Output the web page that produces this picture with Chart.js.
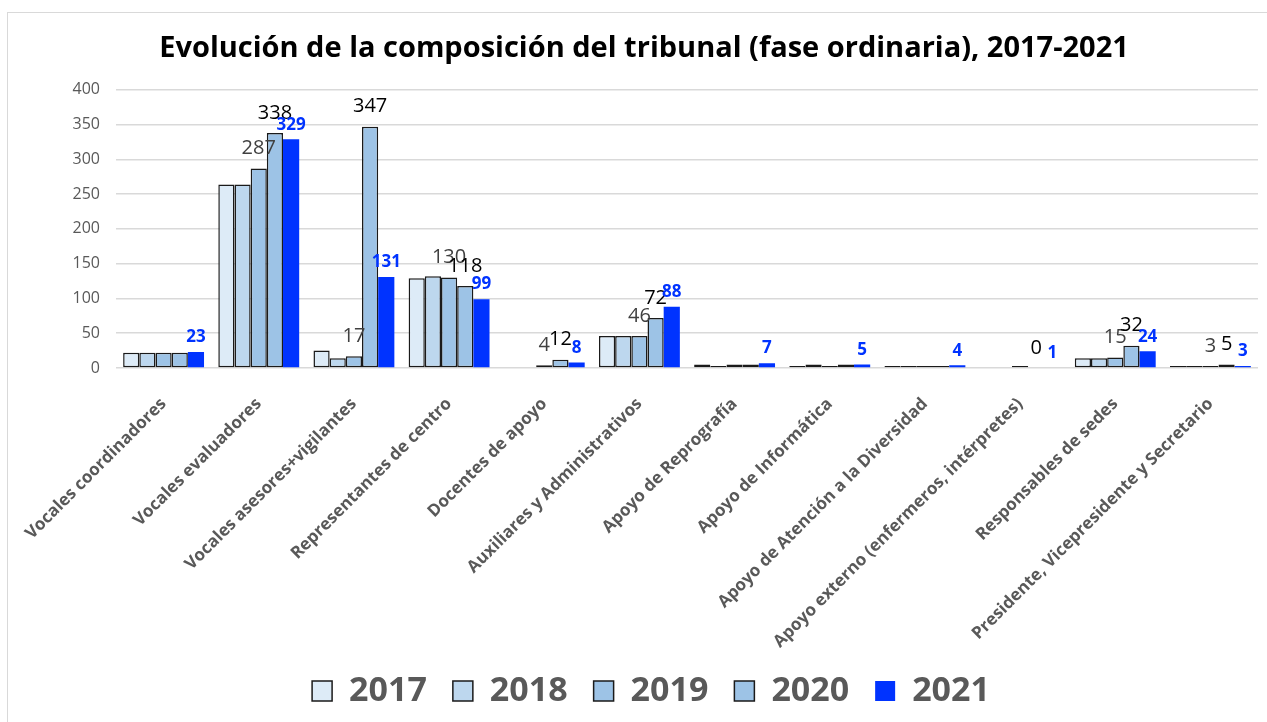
<!DOCTYPE html>
<html lang="es">
<head>
    <meta charset="UTF-8">
    <title>Evolución de la composición del tribunal</title>
    <script src="https://cdn.jsdelivr.net/npm/chart.js"></script>
    <style>
        body { margin: 0; background: #fff; }
        .chart-wrapper { position: relative; width: 1267px; height: 722px; }
    </style>
</head>
<body>
<div class="chart-wrapper">
    <canvas id="tribunalChart"></canvas>
</div>

<script>
    const categorias = [
        'Vocales coordinadores',
        'Vocales evaluadores',
        'Vocales asesores+vigilantes',
        'Representantes de centro',
        'Docentes de apoyo',
        'Auxiliares y Administrativos',
        'Apoyo de Reprografía',
        'Apoyo de Informática',
        'Apoyo de Atención a la Diversidad',
        'Apoyo externo (enfermeros, intérpretes)',
        'Responsables de sedes',
        'Presidente, Vicepresidente y Secretario'
    ];
    const anios = ['2017', '2018', '2019', '2020', '2021'];

    const datos2017 = [22, 264, 25, 129, 0, 46, 5, 3, 3, 0, 14, 3];
    const datos2018 = [22, 264, 14, 132, 0, 46, 3, 5, 3, 0, 14, 3];
    const datos2019 = [22, 287, 17, 130, 4, 46, 5, 3, 3, 3, 15, 3];
    const datos2020 = [22, 338, 347, 118, 12, 72, 5, 5, 3, 0, 32, 5];
    const datos2021 = [23, 329, 131, 99, 8, 88, 7, 5, 4, 1, 24, 3];

    const ticksY = [0, 50, 100, 150, 200, 250, 300, 350, 400];

    // categorías con etiqueta visible (por índice)
    const etiquetas2019 = [1, 2, 3, 4, 5, 10, 11];
    const etiquetas2020 = [1, 2, 3, 4, 5, 9, 10, 11];
    const etiquetas2021 = [0, 1, 2, 3, 4, 5, 6, 7, 8, 9, 10, 11];

    const FUENTE = '"Open Sans", sans-serif';
    const AZUL = '#0033ff';

    const series = [datos2017, datos2018, datos2019, datos2020, datos2021];
    const rellenos = ['#ddebf7', '#bdd7ee', '#9dc3e6', '#9dc3e6', AZUL];
    const visibles = [[], [], etiquetas2019, etiquetas2020, etiquetas2021];
    const estiloEtiqueta = [
        null, null,
        { color: '#404040', font: '20px ' + FUENTE, gap: 10 },
        { color: '#000000', font: '20px ' + FUENTE, gap: 10 },
        { color: AZUL, font: 'bold 17px ' + FUENTE, gap: 6 }
    ];

    const datasets = series.map((valores, i) => ({
        label: anios[i],
        data: valores,
        backgroundColor: rellenos[i],
        borderColor: i < 4 ? '#1a1a1a' : AZUL,
        borderWidth: i < 4 ? 1.5 : 0,
        borderSkipped: false,
        categoryPercentage: 0.85,
        barPercentage: 1.0
    }));

    // marco gris claro alrededor del gráfico
    const marco = {
        id: 'marco',
        beforeDraw(chart) {
            const c = chart.ctx;
            c.save();
            c.fillStyle = '#fff';
            c.fillRect(0, 0, chart.width, chart.height);
            c.strokeStyle = '#d9d9d9';
            c.lineWidth = 1;
            c.strokeRect(7.5, 12.5, chart.width + 20, chart.height + 20);
            c.restore();
        },
        // el gráfico original es algo más ancho que la ventana: centrar título y leyenda como allí
        afterLayout(chart) {
            if (chart.titleBlock) {
                chart.titleBlock.left += 15;
                chart.titleBlock.right += 15;
            }
            if (chart.legend) {
                chart.legend.left += 22;
                chart.legend.right += 22;
            }
        }
    };

    // etiquetas de valor encima de las barras
    const etiquetas = {
        id: 'etiquetas',
        afterDatasetsDraw(chart) {
            const c = chart.ctx;
            c.save();
            c.textAlign = 'center';
            c.textBaseline = 'bottom';
            chart.data.datasets.forEach((ds, i) => {
                const estilo = estiloEtiqueta[i];
                if (!estilo) return;
                const meta = chart.getDatasetMeta(i);
                visibles[i].forEach(idx => {
                    const bar = meta.data[idx];
                    c.fillStyle = estilo.color;
                    c.font = estilo.font;
                    c.fillText(String(ds.data[idx]), bar.x, bar.y - estilo.gap);
                });
            });
            c.restore();
        }
    };

    const config = {
        type: 'bar',
        data: { labels: categorias, datasets: datasets },
        options: {
            responsive: true,
            maintainAspectRatio: false,
            animation: false,
            layout: { padding: { left: 0, right: 9, top: 0, bottom: 4 } },
            plugins: {
                title: {
                    display: true,
                    text: 'Evolución de la composición del tribunal (fase ordinaria), 2017-2021',
                    color: '#000',
                    font: { family: FUENTE, size: 29, weight: 'bold' },
                    padding: { top: 31, bottom: 24 }
                },
                legend: {
                    position: 'bottom',
                    labels: {
                        color: '#595959',
                        font: { family: FUENTE, size: 34, weight: 'bold' },
                        boxWidth: 20,
                        boxHeight: 20,
                        padding: 26
                    }
                },
                tooltip: { enabled: false }
            },
            scales: {
                x: {
                    grid: { display: false },
                    border: { display: false },
                    ticks: {
                        color: '#595959',
                        font: { family: FUENTE, size: 17, weight: 'bold' },
                        maxRotation: 45,
                        minRotation: 45,
                        autoSkip: false,
                        padding: 18
                    },
                    afterFit(scale) { scale.height = 280; }
                },
                y: {
                    min: 0,
                    max: 400,
                    afterBuildTicks(scale) { scale.ticks = ticksY.map(v => ({ value: v })); },
                    grid: { color: '#d9d9d9', lineWidth: 1.5, drawTicks: false },
                    border: { display: false },
                    ticks: {
                        color: '#595959',
                        font: { family: FUENTE, size: 16 },
                        padding: 16
                    },
                    afterFit(scale) { scale.width = 116; }
                }
            }
        },
        plugins: [marco, etiquetas]
    };

    const ctx = document.getElementById('tribunalChart').getContext('2d');
    const tribunalChart = new Chart(ctx, config);
</script>
</body>
</html>
